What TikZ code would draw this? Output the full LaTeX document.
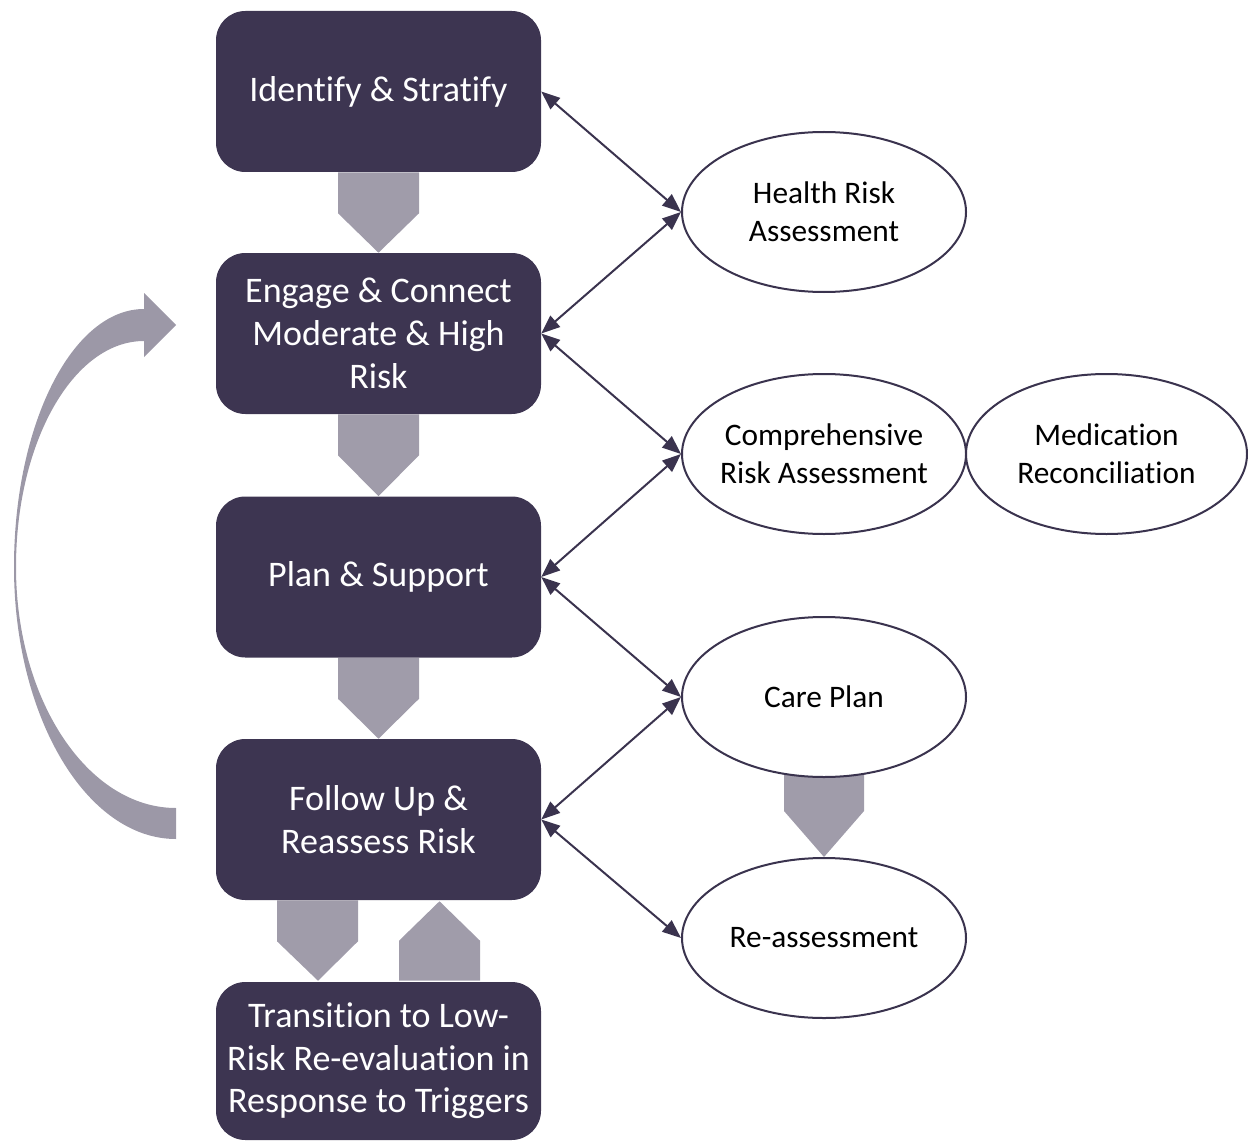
\documentclass[tikz,border=0pt]{standalone}
\usepackage{fontspec}
\setmainfont{Carlito}[Ligatures=NoCommon]
\usetikzlibrary{arrows.meta,calc,shapes.geometric,backgrounds}
\definecolor{boxc}{HTML}{3D3551}
\definecolor{chevc}{HTML}{A09CAA}
\definecolor{linec}{HTML}{3A334E}
\definecolor{curvc}{HTML}{9C98A7}
\begin{document}
\begin{tikzpicture}[x=0.75pt,y=-0.75pt,
  stage/.style={rectangle, rounded corners=22pt, fill=boxc, text=white,
    minimum width=243.75pt, minimum height=120.75pt, inner sep=0pt,
    align=center, font=\fontsize{27}{32}\selectfont},
  ell/.style={ellipse, draw=linec, line width=1.5pt, fill=white,
    minimum width=213pt, minimum height=120pt, inner sep=0pt},
  etext/.style={font=\fontsize{23.5}{28.5}\selectfont, align=center, text=black, inner sep=0pt},
  chev/.style={fill=chevc},
  link/.style={draw=linec, line width=1.5pt,
    {Triangle[length=14pt,width=11pt]}-{Triangle[length=14pt,width=11pt]}},
]
\useasboundingbox (0,0) rectangle (1248,1141);

% stages
\node[stage] (b1) at (378.5,91.5) {Identify \& Stratify};
\node[stage] (b2) at (378.5,333.5) {Engage \& Connect\\Moderate \& High\\Risk};
\node[stage] (b3) at (378.5,577) {Plan \& Support};
\node[stage] (b4) at (378.5,819.5) {Follow Up \&\\Reassess Risk};
\node[stage, minimum height=118.5pt] (b5) at (378.5,1061) {Transition to Low-\\Risk Re-evaluation in\\Response to Triggers};

% ellipses
\node[ell, label={[etext]center:{Health Risk\\Assessment}}] (hra) at (824,212) {};
\node[ell, label={[etext]center:{Comprehensive\\Risk Assessment}}] (cra) at (824,454) {};
\node[ell, minimum width=210.75pt, label={[etext]center:{Medication\\Reconciliation}}] (mr) at (1106.5,454) {};
\node[ell, label={[etext]center:{Care Plan}}] (cp) at (824,697) {};
\node[ell, label={[etext]center:{Re-assessment}}] (ra) at (824,938) {};

% chevrons
\begin{scope}[on background layer]
\fill[chev] ($(b1.south)+(-40.5,0)$) -- ($(b1.south)+(40.5,0)$) -- ($(b1.south)+(40.5,41)$) -- (b2.north) -- ($(b1.south)+(-40.5,41)$) -- cycle;
\fill[chev] ($(b2.south)+(-40.5,0)$) -- ($(b2.south)+(40.5,0)$) -- ($(b2.south)+(40.5,41)$) -- (b3.north) -- ($(b2.south)+(-40.5,41)$) -- cycle;
\fill[chev] ($(b3.south)+(-40.5,0)$) -- ($(b3.south)+(40.5,0)$) -- ($(b3.south)+(40.5,41)$) -- (b4.north) -- ($(b3.south)+(-40.5,41)$) -- cycle;
\fill[chev] ($(b4.south)+(-101.5,0)$) -- ($(b4.south)+(-20.5,0)$) -- ($(b4.south)+(-20.5,41)$) -- ($(b5.north)+(-60.5,-1)$) -- ($(b4.south)+(-101.5,41)$) -- cycle;
\fill[chev] ($(b5.north)+(20.5,-1)$) -- ($(b5.north)+(101.5,-1)$) -- ($(b5.north)+(101.5,-41)$) -- ($(b4.south)+(61,1)$) -- ($(b5.north)+(20.5,-41)$) -- cycle;
\fill[chev] ($(cp.south)+(-40,-10)$) -- ($(cp.south)+(40,-10)$) -- ($(cp.south)+(40,33)$) -- (ra.north) -- ($(cp.south)+(-40,33)$) -- cycle;
\end{scope}

% connectors
\draw[link] (b1.east) -- (hra.west);
\draw[link] (b2.east) -- (hra.west);
\draw[link] (b2.east) -- (cra.west);
\draw[link] (b3.east) -- (cra.west);
\draw[link] (b3.east) -- (cp.west);
\draw[link] (b4.east) -- (cp.west);
\draw[link] (b4.east) -- (ra.west);

% curved return arrow
\fill[curvc] (176,839) .. controls (86.5,839) and (14,717) .. (14,567)
  .. controls (14,424.5) and (72.2,309) .. (144,309)
  -- (144,293) -- (176,325) -- (144,357) -- (144,341)
  .. controls (73.3,341) and (16,442) .. (16,567)
  .. controls (16,700) and (87.6,808) .. (176,808) -- cycle;
\end{tikzpicture}
\end{document}
